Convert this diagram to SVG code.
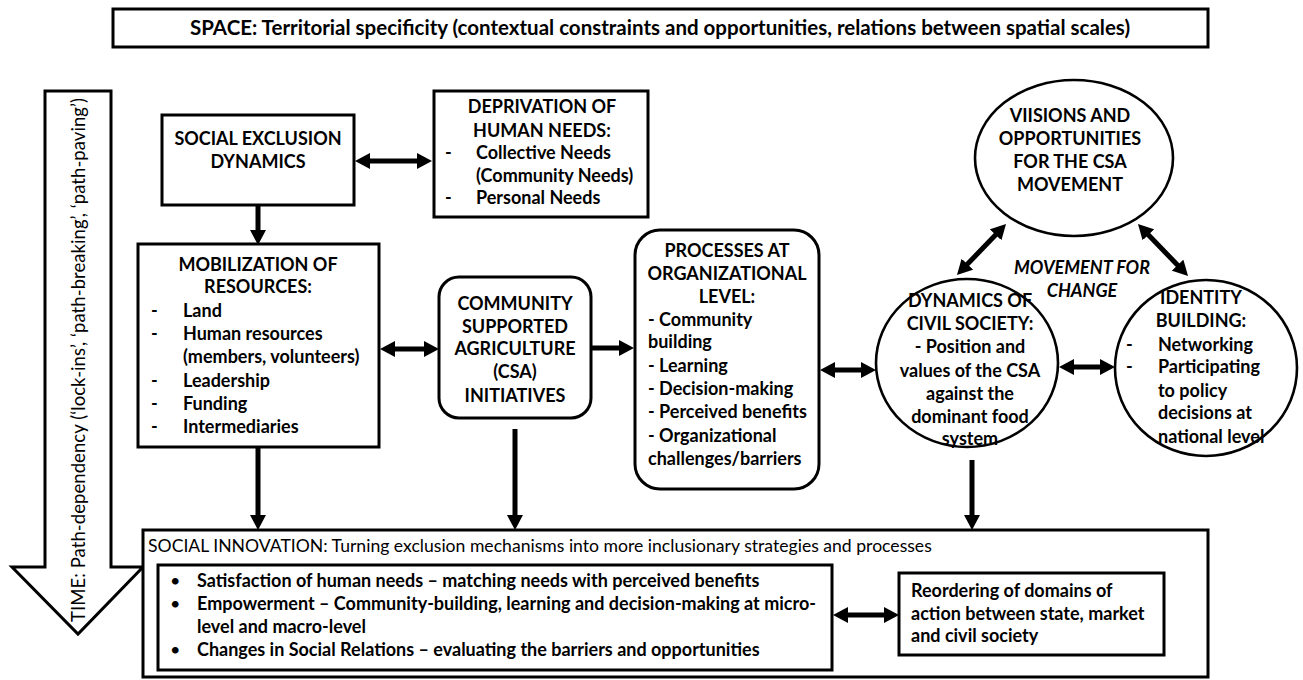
<svg xmlns="http://www.w3.org/2000/svg" width="1303" height="680" viewBox="0 0 1303 680">
<style>
  .box { fill: #fff; stroke: #000; stroke-width: 3; }
  .circ { fill: #fff; stroke: #000; stroke-width: 2.6; }
  .t { font-family: Lato, "Liberation Sans", sans-serif; font-size: 18px; font-weight: bold; fill: #000; }
  .c { text-anchor: middle; }
  .r { font-weight: normal; }
  .it { font-style: italic; }
  .conn line { stroke: #000; stroke-width: 5; marker-end: url(#ah); }
  .conn line.dbl { marker-start: url(#ah); }
</style>
<defs>
  <marker id="ah" viewBox="0 0 15 16" refX="5" refY="8" markerWidth="3" markerHeight="3.2" orient="auto-start-reverse" markerUnits="strokeWidth">
    <path d="M0,0 L15,8 L0,16 z" fill="#000"/>
  </marker>
</defs>
<rect width="1303" height="680" fill="#fff"/>

<g id="space">
  <rect class="box" x="113" y="9" width="1095" height="38"/>
  <text class="t c" x="660" y="35" style="font-size:20.5px">SPACE: Territorial specificity (contextual constraints and opportunities, relations between spatial scales)</text>
</g>

<g id="time">
  <polygon class="box" points="45,91 111,91 111,567 143,567 78,634 12,567 45,567"/>
  <text class="t r c" transform="translate(78,360) rotate(-90)" dominant-baseline="central" style="font-size:18.5px" textLength="524" lengthAdjust="spacing">TIME: Path-dependency (‘lock-ins’, ‘path-breaking’, ‘path-paving’)</text>
</g>

<g id="social-innovation">
  <rect class="box" x="143" y="530" width="1065" height="147"/>
  <text class="t r" x="148" y="552" style="font-size:17.6px">SOCIAL INNOVATION: Turning exclusion mechanisms into more inclusionary strategies and processes</text>
</g>

<g id="innovation-items">
  <rect class="box" x="158" y="565" width="674" height="105"/>
  <text class="t r" x="170" y="587">•</text>
  <text class="t" x="197" y="587">Satisfaction of human needs – matching needs with perceived benefits</text>
  <text class="t r" x="170" y="610">•</text>
  <text class="t" x="197" y="610">Empowerment – Community-building, learning and decision-making at micro-</text>
  <text class="t" x="197" y="633">level and macro-level</text>
  <text class="t r" x="170" y="656">•</text>
  <text class="t" x="197" y="656">Changes in Social Relations – evaluating the barriers and opportunities</text>
</g>

<g id="reordering">
  <rect class="box" x="899" y="573" width="265" height="82"/>
  <text class="t" x="911" y="597">Reordering of domains of</text>
  <text class="t" x="911" y="620">action between state, market</text>
  <text class="t" x="911" y="642">and civil society</text>
</g>

<g id="social-exclusion">
  <rect class="box" x="162" y="115" width="192" height="90"/>
  <text class="t c" x="258" y="145">SOCIAL EXCLUSION</text>
  <text class="t c" x="258" y="168">DYNAMICS</text>
</g>

<g id="deprivation">
  <rect class="box" x="434" y="91" width="214" height="126"/>
  <text class="t c" x="542" y="113">DEPRIVATION OF</text>
  <text class="t c" x="542" y="137">HUMAN NEEDS:</text>
  <text class="t" x="445" y="159">-</text>
  <text class="t" x="476" y="159">Collective Needs</text>
  <text class="t" x="476" y="182">(Community Needs)</text>
  <text class="t" x="445" y="204">-</text>
  <text class="t" x="476" y="204">Personal Needs</text>
</g>

<g id="mobilization">
  <rect class="box" x="138" y="244" width="241" height="203"/>
  <text class="t c" x="258" y="271">MOBILIZATION OF</text>
  <text class="t c" x="258" y="293">RESOURCES:</text>
  <text class="t" x="151" y="317">-</text>
  <text class="t" x="183" y="317">Land</text>
  <text class="t" x="151" y="340">-</text>
  <text class="t" x="183" y="340">Human resources</text>
  <text class="t" x="183" y="363">(members, volunteers)</text>
  <text class="t" x="151" y="387">-</text>
  <text class="t" x="183" y="387">Leadership</text>
  <text class="t" x="151" y="410">-</text>
  <text class="t" x="183" y="410">Funding</text>
  <text class="t" x="151" y="433">-</text>
  <text class="t" x="183" y="433">Intermediaries</text>
</g>

<g id="csa">
  <rect class="box" x="439" y="277" width="152" height="141" rx="20"/>
  <text class="t c" x="515" y="310">COMMUNITY</text>
  <text class="t c" x="515" y="333">SUPPORTED</text>
  <text class="t c" x="515" y="355">AGRICULTURE</text>
  <text class="t c" x="515" y="378">(CSA)</text>
  <text class="t c" x="515" y="402">INITIATIVES</text>
</g>

<g id="processes">
  <rect class="box" x="635" y="230" width="184" height="259" rx="25"/>
  <text class="t c" x="727" y="257">PROCESSES AT</text>
  <text class="t c" x="727" y="280">ORGANIZATIONAL</text>
  <text class="t c" x="727" y="303">LEVEL:</text>
  <text class="t" x="648" y="326">- Community</text>
  <text class="t" x="648" y="348">building</text>
  <text class="t" x="648" y="372">- Learning</text>
  <text class="t" x="648" y="395">- Decision-making</text>
  <text class="t" x="648" y="418">- Perceived benefits</text>
  <text class="t" x="648" y="442">- Organizational</text>
  <text class="t" x="648" y="465">challenges/barriers</text>
</g>

<g id="visions">
  <ellipse class="circ" cx="1074" cy="158" rx="99" ry="78"/>
  <text class="t c" x="1070" y="122">VIISIONS AND</text>
  <text class="t c" x="1070" y="145">OPPORTUNITIES</text>
  <text class="t c" x="1070" y="168">FOR THE CSA</text>
  <text class="t c" x="1070" y="191">MOVEMENT</text>
</g>

<g id="dynamics">
  <ellipse class="circ" cx="967" cy="363" rx="91" ry="84"/>
  <text class="t c" x="970" y="307">DYNAMICS OF</text>
  <text class="t c" x="970" y="330">CIVIL SOCIETY:</text>
  <text class="t c" x="970" y="353">- Position and</text>
  <text class="t c" x="970" y="377">values of the CSA</text>
  <text class="t c" x="970" y="400">against the</text>
  <text class="t c" x="970" y="423">dominant food</text>
  <text class="t c" x="970" y="445">system</text>
</g>

<g id="identity">
  <ellipse class="circ" cx="1206" cy="368" rx="91" ry="88"/>
  <text class="t c" x="1201" y="304">IDENTITY</text>
  <text class="t c" x="1201" y="327">BUILDING:</text>
  <text class="t" x="1126" y="351">-</text>
  <text class="t" x="1158" y="351">Networking</text>
  <text class="t" x="1126" y="373">-</text>
  <text class="t" x="1158" y="373">Participating</text>
  <text class="t" x="1158" y="397">to policy</text>
  <text class="t" x="1158" y="419">decisions at</text>
  <text class="t" x="1158" y="443">national level</text>
</g>

<g id="movement-label">
  <text class="t c it" x="1082" y="274">MOVEMENT FOR</text>
  <text class="t c it" x="1082" y="297">CHANGE</text>
</g>

<g class="conn" id="connectors">
  <line class="dbl" x1="365" y1="161" x2="422" y2="161"/>
  <line x1="258" y1="205" x2="258" y2="235"/>
  <line class="dbl" x1="390" y1="349" x2="429" y2="349"/>
  <line x1="591" y1="348" x2="624" y2="348"/>
  <line class="dbl" x1="830" y1="370" x2="866" y2="370"/>
  <line class="dbl" x1="1069" y1="367" x2="1105" y2="367"/>
  <line class="dbl" x1="963.9" y1="267.8" x2="999.1" y2="231.2"/>
  <line class="dbl" x1="1144.9" y1="231.2" x2="1181.1" y2="268.8"/>
  <line x1="258" y1="447" x2="258" y2="520"/>
  <line x1="515" y1="429" x2="515" y2="520"/>
  <line x1="972" y1="460" x2="972" y2="520"/>
  <line class="dbl" x1="843" y1="615" x2="889" y2="615"/>
</g>
</svg>
